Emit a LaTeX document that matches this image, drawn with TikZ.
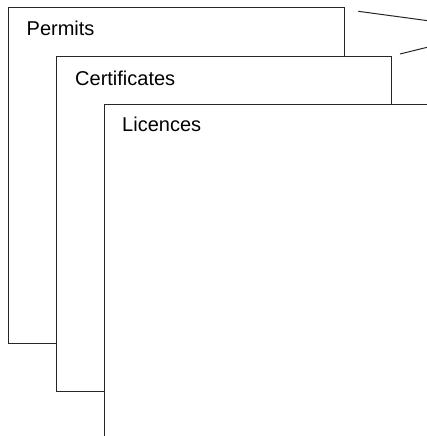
\documentclass[tikz,border=0pt]{standalone}
\usepackage{fontspec}
\setmainfont{Liberation Sans}
\begin{document}
\begin{tikzpicture}[x=1pt,y=-1pt,
  card/.style={draw=black!85, line width=1pt, fill=white, anchor=north west, inner sep=0pt},
  cardlabel/.style={anchor=base west, inner sep=0pt, font=\fontsize{20}{24}\selectfont},
  callout/.style={draw=black!85, line width=1pt}]
\useasboundingbox (0,0) rectangle (427,436);
\clip (0,0) rectangle (427,436);
\node[card, minimum width=336pt, minimum height=335.5pt] (permits) at (7.5,7.5) {};
\node[cardlabel] (permitslbl) at ([xshift=19pt,yshift=-28.5pt]permits.north west) {Permits};
\node[card, minimum width=335pt, minimum height=335pt] (certs) at (56,56) {};
\node[cardlabel] (certslbl) at ([xshift=19pt,yshift=-29pt]certs.north west) {Certificates};
\node[card, minimum width=360pt, minimum height=360pt] (licences) at (104,104) {};
\node[cardlabel] (licenceslbl) at ([xshift=18pt,yshift=-27pt]licences.north west) {Licences};
\coordinate (c1a) at (358.3,11.3);
\coordinate (c1b) at (430,21);
\coordinate (c2a) at (400,54);
\coordinate (c2b) at (430,46.6);
\draw[callout] (c1a) -- (c1b);
\draw[callout] (c2a) -- (c2b);
\end{tikzpicture}
\end{document}
